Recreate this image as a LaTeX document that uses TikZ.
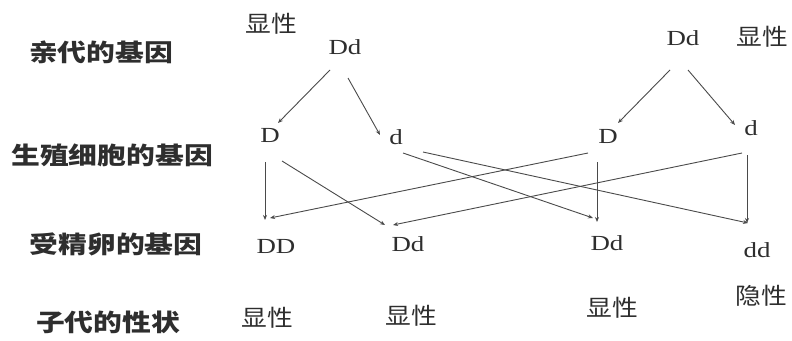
\documentclass[tikz,border=0pt]{standalone}
\usepackage{fontspec}
\usepackage{graphicx}
\setmainfont{Liberation Serif}
\newfontfamily\cjk{Noto Sans CJK SC}
\usetikzlibrary{arrows.meta,calc}
\definecolor{ink}{HTML}{2E2E2E}
\definecolor{lin}{HTML}{4A4A4A}
\tikzset{
  rowlab/.style={text=ink,inner sep=0pt,font=\cjk\bfseries\fontsize{24}{26}\selectfont},
  trait/.style={text=ink,inner sep=0pt,font=\cjk\fontsize{23}{25}\selectfont},
  gene/.style={text=ink,inner sep=0pt,font=\fontsize{21.5}{23}\selectfont},
  link/.style={draw=lin,line width=0.9pt,-{Stealth[length=5pt,width=4pt]}}
}
\newcommand{\wx}[2]{\scalebox{#1}[1]{#2}}
\begin{document}
\begin{tikzpicture}[x=1pt,y=-1pt]
\useasboundingbox (0,0) rectangle (792,340);
% row labels
\node[rowlab] (L1) at (101,52) {\wx{1.2}{亲代的基因}};
\node[rowlab] (L2) at (112,155) {\wx{1.2}{生殖细胞的基因}};
\node[rowlab] (L3) at (116,244) {\wx{1.2}{受精卵的基因}};
\node[rowlab] (L4) at (108,322) {\wx{1.2}{子代的性状}};
% parents
\node[trait] (T1) at (271,24) {\wx{1.12}{显性}};
\node[gene] (P1) at (345,47) {\wx{1.25}{Dd}};
\node[gene] (P2) at (683,38) {\wx{1.25}{Dd}};
\node[trait] (T2) at (762,37) {\wx{1.12}{显性}};
% gametes
\node[gene] (G1) at (270,135) {\wx{1.25}{D}};
\node[gene] (G2) at (396,137) {\wx{1.25}{d}};
\node[gene] (G3) at (608,136) {\wx{1.25}{D}};
\node[gene] (G4) at (751,128) {\wx{1.25}{d}};
% zygotes
\node[gene] (Z1) at (276,246) {\wx{1.25}{DD}};
\node[gene] (Z2) at (408,244) {\wx{1.25}{Dd}};
\node[gene] (Z3) at (607,243) {\wx{1.25}{Dd}};
\node[gene] (Z4) at (757,250) {\wx{1.25}{dd}};
% phenotypes
\node[trait] (F1) at (267,318) {\wx{1.12}{显性}};
\node[trait] (F2) at (411,316) {\wx{1.12}{显性}};
\node[trait] (F3) at (612,308) {\wx{1.12}{显性}};
\node[trait] (F4) at (761,296) {\wx{1.12}{隐性}};
% parent -> gametes
\draw[link] ($(P1)+(-15,23)$) -- ($(G1)+(8,-12)$);
\draw[link] ($(P1)+(3,31)$) -- ($(G2)+(-16,-2)$);
\draw[link] ($(P2)+(-13,32)$) -- ($(G3)+(10,-13)$);
\draw[link] ($(P2)+(5,32)$) -- ($(G4)+(-16,-3)$);
% gametes -> zygotes
\draw[link] ($(G1)+(-5,27)$) -- ($(Z1)+(-11,-26)$);
\draw[link] ($(G1)+(12,26)$) -- ($(Z2)+(-23,-19)$);
\draw[link] ($(G3)+(-20,17)$) -- ($(Z1)+(-6,-28)$);
\draw[link] ($(G4)+(-9,25)$) -- ($(Z2)+(-15,-19)$);
\draw[link] ($(G2)+(7,16)$) -- ($(Z3)+(-14,-25)$);
\draw[link] ($(G2)+(27,15)$) -- ($(Z4)+(-9,-27)$);
\draw[link] ($(G3)+(-11,26)$) -- ($(Z3)+(-10,-21)$);
\draw[link] ($(G4)+(-4,27)$) -- ($(Z4)+(-10,-27)$);
\end{tikzpicture}
\end{document}
